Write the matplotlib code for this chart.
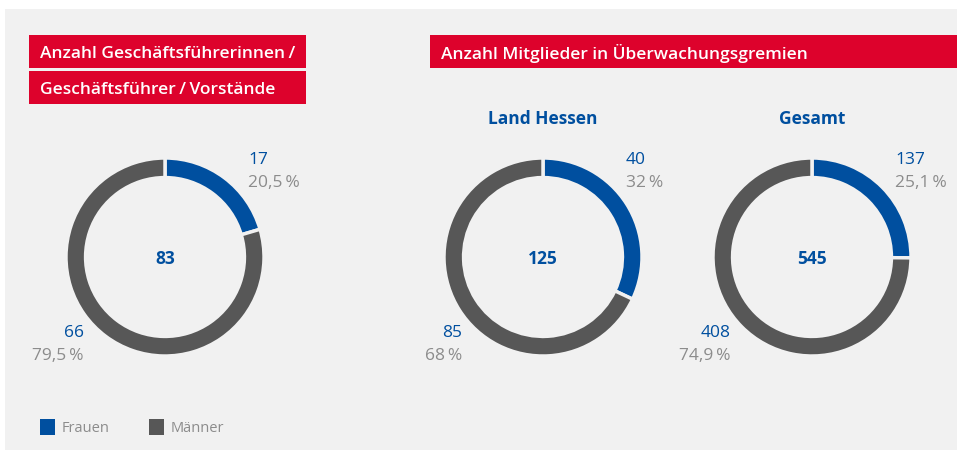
import matplotlib
matplotlib.use("Agg")
import matplotlib.pyplot as plt
from matplotlib.patches import Rectangle

plt.rcParams['font.family'] = ['Open Sans', 'DejaVu Sans']

# data
groups = ['Geschäftsführer', 'Land Hessen', 'Gesamt']
frauen = [17, 40, 137]
maenner = [66, 85, 408]
totals = [83, 125, 545]
frauen_pct = ['20,5\u2009%', '32\u2009%', '25,1\u2009%']
maenner_pct = ['79,5\u2009%', '68\u2009%', '74,9\u2009%']
sub_titles = ['', 'Land Hessen', 'Gesamt']
legend_labels = ['Frauen', 'Männer']

BLUE = '#004f9f'
GRAY = '#575757'
RED = '#dd022c'
BG = '#f1f1f1'
TXT = '#8c8c8c'

W, H = 958, 450
fig = plt.figure(figsize=(W / 100, H / 100), dpi=100)
fig.patch.set_facecolor('white')

base = fig.add_axes([0, 0, 1, 1])
base.set_xlim(0, W)
base.set_ylim(H, 0)
base.axis('off')
base.add_patch(Rectangle((5, 9), 952, 441, color=BG, lw=0))

# header boxes
heads = [(29, 35, 277, 33, 'Anzahl Geschäftsführerinnen\u2009/'),
         (29, 71, 277, 33, 'Geschäftsführer\u2009/\u2009Vorstände'),
         (430, 35, 527, 33, 'Anzahl Mitglieder in Überwachungsgremien')]
for x, y, w, h, t in heads:
    base.add_patch(Rectangle((x, y), w, h, color=RED, lw=0))
    base.text(x + 11, y + h / 2 + 2, t, color='white', fontsize=12.5,
              fontweight='semibold', va='center', ha='left')

centers = [165, 543, 812]
cy = 257
R = 101
for i, cx in enumerate(centers):
    ax = fig.add_axes([(cx - R) / W, 1 - (cy + R) / H, 2 * R / W, 2 * R / H])
    ax.pie([frauen[i], maenner[i]], colors=[BLUE, GRAY], startangle=90,
           counterclock=False, radius=1,
           wedgeprops=dict(width=20 / R, edgecolor=BG, linewidth=2.5))
    ax.set_xlim(-1.02, 1.02)
    ax.set_ylim(-1.02, 1.02)
    ax.set_aspect('auto')
    base.text(cx, cy + 2, str(totals[i]), color=BLUE, fontsize=12.5,
              fontweight='bold', ha='center', va='center')
    if sub_titles[i]:
        base.text(cx, 119, sub_titles[i], color=BLUE, fontsize=12.5,
                  fontweight='bold', ha='center', va='center')
    base.text(cx + 83, 160, str(frauen[i]), color=BLUE, fontsize=12.5,
              ha='left', va='center')
    base.text(cx + 83, 183, frauen_pct[i], color=TXT, fontsize=12.5,
              ha='left', va='center')
    base.text(cx - 81, 333, str(maenner[i]), color=BLUE, fontsize=12.5,
              ha='right', va='center')
    base.text(cx - 81, 356, maenner_pct[i], color=TXT, fontsize=12.5,
              ha='right', va='center')

# legend
for x, c, lab in [(40, BLUE, legend_labels[0]), (149, GRAY, legend_labels[1])]:
    base.add_patch(Rectangle((x, 419), 15, 16, color=c, lw=0))
    base.text(x + 22, 428.5, lab, color=TXT, fontsize=10.5, ha='left',
              va='center')

fig.savefig('out.png', dpi=100, facecolor=fig.get_facecolor())
